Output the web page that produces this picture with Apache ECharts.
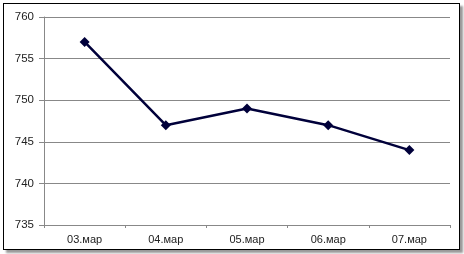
<!DOCTYPE html>
<html><head><meta charset="utf-8">
<script src="https://cdn.jsdelivr.net/npm/echarts@6/dist/echarts.min.js"></script>
<style>
html,body{margin:0;padding:0;background:#fff;}
#frame{position:absolute;left:3px;top:3px;width:455px;height:245px;border:1px solid #000;box-shadow:3px 3px 2px #999;}
#c{position:absolute;left:0;top:0;width:464px;height:254px;}
</style></head>
<body><div id="frame"></div><div id="c"></div>
<script>
const categories = ['03.мар','04.мар','05.мар','06.мар','07.мар'];
const values = [757, 747, 749, 747, 744];
const yMin = 735, yMax = 760, yStep = 5;

const chart = echarts.init(document.getElementById('c'), null, {renderer:'canvas'});
chart.setOption({
  animation:false,
  backgroundColor:'transparent',
  grid:{left:44, right:14, top:17, bottom:29},
  xAxis:{
    type:'category', data:categories, boundaryGap:true,
    axisLine:{lineStyle:{color:'#888', width:1}},
    axisTick:{show:true, length:3, lineStyle:{color:'#888'}},
    axisLabel:{color:'#222', fontFamily:'Liberation Sans, Arial', fontSize:11, margin:9}
  },
  yAxis:{
    type:'value', min:yMin, max:yMax, interval:yStep,
    axisLine:{show:true, lineStyle:{color:'#888', width:1}},
    axisTick:{show:true, length:5, lineStyle:{color:'#888'}},
    splitLine:{lineStyle:{color:'#888', width:1}},
    axisLabel:{color:'#222', fontFamily:'Liberation Sans, Arial', fontSize:11.5, margin:10}
  },
  series:[{
    type:'line', data:values,
    lineStyle:{color:'#00003a', width:2.5},
    itemStyle:{color:'#00003a'},
    symbol:'diamond', symbolSize:10, showSymbol:true
  }]
});
</script></body></html>
